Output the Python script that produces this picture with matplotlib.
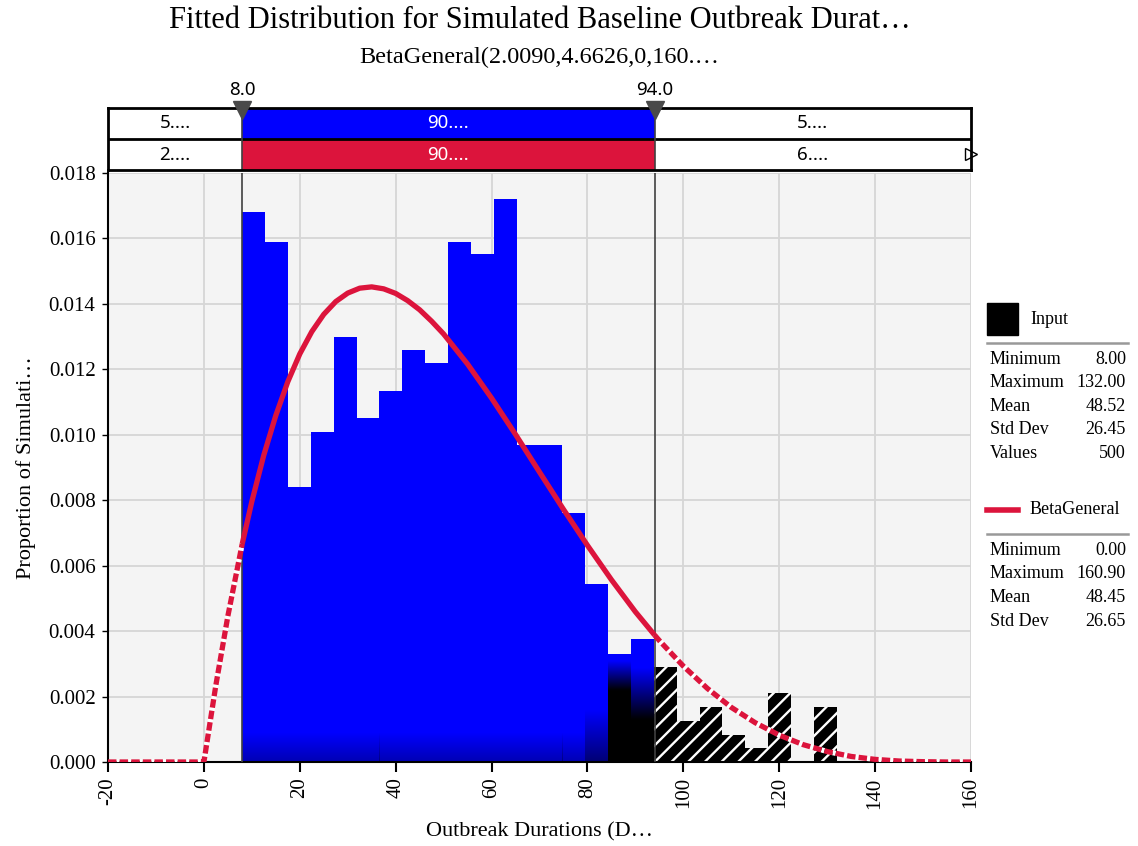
import numpy as np
import matplotlib
matplotlib.use('Agg')
import matplotlib.pyplot as plt
from matplotlib.lines import Line2D
from matplotlib.patches import Rectangle

# histogram of the input (density), 26 bins between 8 and 132
bin_min = 8.0
bin_max = 132.0
densities = [0.0168, 0.0159, 0.0084, 0.0101, 0.0130, 0.0105, 0.01135, 0.0126,
             0.0122, 0.0159, 0.01553, 0.0172, 0.0097, 0.0097, 0.0076, 0.00545,
             0.0033, 0.00375, 0.0029, 0.00126, 0.00168, 0.00084, 0.00042,
             0.0021, 0.0, 0.00168]

# fitted BetaGeneral curve
fit_x = [-20, -15, -10, -5, 0, 2.5, 5, 8, 10, 12.5, 15, 17.5, 20, 22.5, 25,
         27.5, 30, 32.5, 35, 37.5, 40, 42.5, 45, 47.5, 50, 55, 60, 65, 70, 75,
         80, 85, 90, 94, 95, 100, 105, 110, 115, 120, 125, 130, 135, 140, 145,
         150, 155, 160]
fit_y = [0, 0, 0, 0, 0, 0.00235, 0.00446, 0.00667, 0.00796, 0.00938, 0.01059,
         0.01162, 0.01247, 0.01315, 0.01368, 0.01407, 0.01433, 0.01448,
         0.01452, 0.01446, 0.01432, 0.01410, 0.01382, 0.01347, 0.01308,
         0.01216, 0.01112, 0.01001, 0.00886, 0.00772, 0.00662, 0.00557,
         0.00459, 0.00388, 0.00371, 0.00293, 0.00225, 0.00167, 0.00120,
         0.00082, 0.00053, 0.00032, 0.00017, 0.00008, 0.00003, 0.00001, 0.0,
         0.0]

left_cut = 8.0
right_cut = 94.0
row1_labels = ['5....', '90....', '5....']
row2_labels = ['2....', '90....', '6....']

input_stats = [('Minimum', '8.00'), ('Maximum', '132.00'), ('Mean', '48.52'),
               ('Std Dev', '26.45'), ('Values', '500')]
fit_stats = [('Minimum', '0.00'), ('Maximum', '160.90'), ('Mean', '48.45'),
             ('Std Dev', '26.65')]

BLUE = '#0000ff'
RED = '#dc143c'
SERIF = 'Liberation Serif'
SANS = 'Noto Sans'

plt.rcParams['axes.unicode_minus'] = False
plt.rcParams['hatch.linewidth'] = 1.7

W, H = 1138, 846
fig = plt.figure(figsize=(W / 100, H / 100), dpi=100)

def fx(px):
    return px / W

def fy(py):
    return 1 - py / H

ax = fig.add_axes([fx(108), fy(762), fx(971) - fx(108), fy(173) - fy(762)])
ax.set_facecolor('#f4f4f4')

edges = np.linspace(bin_min, bin_max, len(densities) + 1)
widths = np.diff(edges)
for i, d in enumerate(densities):
    lo = edges[i]
    if lo < right_cut - 0.5:
        ax.bar(lo, d, width=widths[i], align='edge', color=BLUE, lw=0, zorder=2)
    else:
        ax.bar(lo, d, width=widths[i], align='edge', facecolor='black',
               edgecolor='white', hatch='//', lw=0, zorder=2)

# dark shading at the bottom of the blue bars
for i, d in enumerate(densities):
    lo = edges[i]
    if lo >= right_cut - 0.5 or d == 0:
        continue
    if i == 16:
        top, full, amax = 0.0031, 0.0022, 1.0
    elif i == 17:
        top, full, amax = 0.0029, 0.0013, 1.0
    elif i == 15:
        top, full, amax = 0.0016, 0.0, 0.55
    else:
        top, full, amax = 0.0009, 0.0, 0.3
    top = min(top, d)
    ys = np.linspace(top, 0, 60)
    alpha = amax * np.clip((top - ys) / (top - full), 0, 1)
    img = np.zeros((60, 1, 4))
    img[:, 0, 3] = alpha
    ax.imshow(img, extent=(lo, lo + widths[i], 0, top), aspect='auto',
              interpolation='bilinear', zorder=3)

fx_arr = np.array(fit_x)
fy_arr = np.array(fit_y)
inside = (fx_arr >= left_cut) & (fx_arr <= right_cut)
lo_part = fx_arr <= left_cut
hi_part = fx_arr >= right_cut
ax.plot(fx_arr[inside], fy_arr[inside], color=RED, lw=3.8, zorder=5,
        solid_capstyle='butt', solid_joinstyle='round')
for part in (lo_part, hi_part):
    ax.plot(fx_arr[part], fy_arr[part], color=RED, lw=3.8, zorder=5,
            linestyle=(0, (1.6, 0.6)), gapcolor='white', dash_capstyle='butt')

for c in (left_cut, right_cut):
    ax.axvline(c, color='#404040', lw=1.2, zorder=4)

ax.set_xlim(-20, 160)
ax.set_ylim(0, 0.018)
ax.set_xticks(np.arange(-20, 161, 20))
ax.set_yticks(np.arange(0, 0.0181, 0.002))
ax.set_yticklabels(['%.3f' % v for v in np.arange(0, 0.0181, 0.002)])
ax.grid(True, color='#d6d6d6', lw=1.3, zorder=0)
ax.set_axisbelow(True)
for s in ('top', 'right'):
    ax.spines[s].set_visible(False)
ax.spines['left'].set_linewidth(1.5)
ax.spines['bottom'].set_linewidth(1.5)
ax.tick_params(axis='x', length=7, width=1.5, labelsize=15, labelrotation=90,
               pad=4)
ax.tick_params(axis='y', length=4, width=1, labelsize=15, pad=5)
for lab in ax.get_xticklabels() + ax.get_yticklabels():
    lab.set_family(SERIF)

ax.set_xlabel('Outbreak Durations (D\u2026', family=SERIF, fontsize=16,
              labelpad=10)
ax.set_ylabel('Proportion of Simulati\u2026', family=SERIF, fontsize=16,
              labelpad=9)

# delimiter strip on top
axd = fig.add_axes([fx(108), fy(170), fx(971) - fx(108), fy(108) - fy(170)])
axd.set_xlim(-20, 160)
axd.set_ylim(0, 2)
axd.barh(1.5, right_cut - left_cut, left=left_cut, height=1, color=BLUE, lw=0)
axd.barh(0.5, right_cut - left_cut, left=left_cut, height=1, color=RED, lw=0)
axd.axhline(1, color='black', lw=2)
for c in (left_cut, right_cut):
    axd.axvline(c, color='#404040', lw=1.2)
centers = [(-20 + left_cut) / 2, (left_cut + right_cut) / 2,
           (right_cut + 160) / 2]
for row_y, labels in ((1.5, row1_labels), (0.5, row2_labels)):
    for k, (cx, t) in enumerate(zip(centers, labels)):
        axd.text(cx, row_y, t, ha='center', va='center', fontsize=13.5,
                 family=SANS, color='white' if k == 1 else 'black')
axd.set_xticks([])
axd.set_yticks([])
for s in axd.spines.values():
    s.set_linewidth(2)
axd.plot([160], [0.5], marker='>', markersize=8, markerfacecolor='white',
         markeredgecolor='black', clip_on=False)
for c in (left_cut, right_cut):
    axd.plot([c], [1.92], marker='v', markersize=13, color='#4a4a4a',
             clip_on=False, zorder=6)
    axd.text(c, 2.3, '%.1f' % c, ha='center', va='bottom', fontsize=13.5,
             family=SANS)

mid = fx(539.5)
fig.text(mid, fy(21), 'Fitted Distribution for Simulated Baseline Outbreak Durat\u2026',
         ha='center', va='center', family=SERIF, fontsize=22)
fig.text(mid, fy(57), 'BetaGeneral(2.0090,4.6626,0,160.\u2026', ha='center',
         va='center', family=SERIF, fontsize=17.5)

# legend / statistics panel
fig.add_artist(Rectangle((fx(987), fy(335)), fx(31), 32 / H, color='black',
                         transform=fig.transFigure))
fig.text(fx(1030), fy(319), 'Input', va='center', family=SERIF, fontsize=13)
fig.add_artist(Line2D([fx(987), fx(1128)], [fy(343), fy(343)], color='#999999',
                      lw=1.8, transform=fig.transFigure))
for k, (name, val) in enumerate(input_stats):
    yy = fy(359 + k * 23.5)
    fig.text(fx(990), yy, name, va='center', family=SERIF, fontsize=13)
    fig.text(fx(1126), yy, val, va='center', ha='right', family=SERIF,
             fontsize=13)

fig.add_artist(Line2D([fx(987), fx(1018)], [fy(510), fy(510)], color=RED,
                      lw=4, transform=fig.transFigure))
fig.text(fx(1030), fy(510), 'BetaGeneral', va='center', family=SERIF,
         fontsize=13)
fig.add_artist(Line2D([fx(987), fx(1128)], [fy(534), fy(534)], color='#999999',
                      lw=1.8, transform=fig.transFigure))
for k, (name, val) in enumerate(fit_stats):
    yy = fy(550 + k * 23.7)
    fig.text(fx(990), yy, name, va='center', family=SERIF, fontsize=13)
    fig.text(fx(1126), yy, val, va='center', ha='right', family=SERIF,
             fontsize=13)

fig.savefig('out.png', dpi=100)
